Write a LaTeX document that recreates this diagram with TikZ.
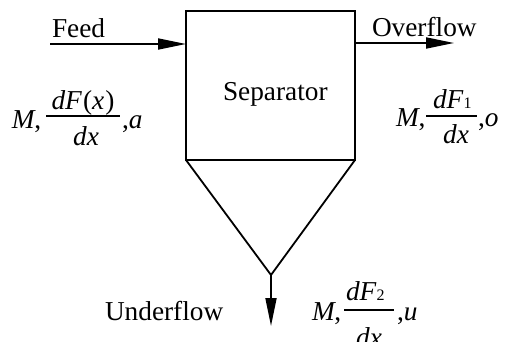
\documentclass[tikz,border=0pt]{standalone}
\usepackage{fontspec}
\setmainfont{Liberation Serif}
\usetikzlibrary{arrows.meta}
\newcommand{\mi}[1]{\textit{#1}}
\newcommand{\subdig}[1]{{\fontsize{16}{16}\selectfont #1}}
\newcommand{\Mcomma}{\mi{M}\kern-1.5pt,}
\begin{document}
\begin{tikzpicture}[x=1pt,y=-1pt,
  every node/.style={inner sep=0pt,outer sep=0pt,font=\fontsize{27.3}{32}\selectfont},
  lbl/.style={anchor=base west},
  mid/.style={anchor=base},
  thick line/.style={line width=1.8pt},
  fracbar/.style={line width=1.1pt},
  flow/.style={line width=1.8pt,-{Triangle[length=28pt,width=11pt]}}]
\useasboundingbox (0,0) rectangle (505,342);
% separator body
\coordinate (tl) at (186,11);
\coordinate (tr) at (355,11);
\coordinate (bl) at (186,160);
\coordinate (br) at (355,160);
\coordinate (apex) at (271,275);
\draw[thick line] (tl) -- (tr) -- (br) -- (bl) -- cycle;
\draw[thick line,line join=miter] (bl) -- (apex) -- (br);
\node[lbl] (sep) at (223,100) {Separator};
% streams
\coordinate (feedstart) at (50,44);
\coordinate (feedend) at (186,44);
\coordinate (ovstart) at (355,43);
\coordinate (ovend) at (454,43);
\coordinate (unend) at (271,326);
\draw[flow] (feedstart) -- (feedend);
\draw[flow] (ovstart) -- (ovend);
\draw[flow] (apex) -- (unend);
\node[lbl] (feed) at (52,38) {Feed};
\node[lbl] (over) at (372,37) {Overflow};
\node[lbl] (under) at (105,320) {Underflow};
% feed formula
\node[lbl] (fa-m) at (12,128) {\Mcomma};
\node[mid] (fa-num) at (83,110) {\mi{dF}\kern1pt(\mi{x}\kern1pt)};
\draw[fracbar] (46,116) -- (120,116);
\node[mid] (fa-den) at (86,145) {\mi{dx}};
\node[lbl] (fa-a) at (122,128) {,\mi{a}};
% overflow formula
\node[lbl] (fo-m) at (396,126) {\Mcomma};
\node[lbl] (fo-num) at (433,108) {\mi{dF}\subdig{1}};
\draw[fracbar] (426,116) -- (477,116);
\node[mid] (fo-den) at (456,143) {\mi{dx}};
\node[lbl] (fo-o) at (478,126) {,\mi{o}};
% underflow formula
\node[lbl] (fu-m) at (312,320) {\Mcomma};
\node[lbl] (fu-num) at (346,300) {\mi{dF}\subdig{2}};
\draw[fracbar] (344,310) -- (394,310);
\node[mid] (fu-den) at (369,346) {\mi{dx}};
\node[lbl] (fu-u) at (397,320) {,\mi{u}};
\end{tikzpicture}
\end{document}
